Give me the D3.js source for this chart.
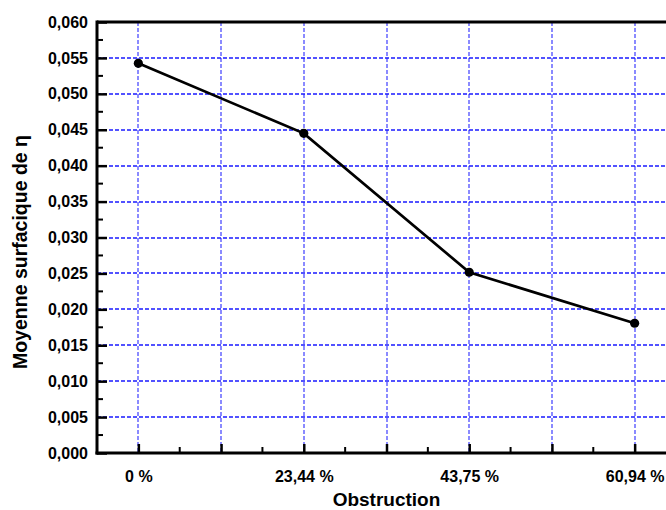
<!DOCTYPE html>
<html><head><meta charset="utf-8">
<script src="https://cdn.jsdelivr.net/npm/d3@7"></script>
<style>body{margin:0;background:#fff}svg{display:block}text{font-family:"Liberation Sans",Arial,sans-serif;font-weight:bold;fill:#000}</style>
</head><body>
<script>
const categories = ["0 %", "23,44 %", "43,75 %", "60,94 %"];
const positions = [1, 2, 3, 4];
const values = [0.05425, 0.0445, 0.02516, 0.01806];
const yTicks = [0, 0.005, 0.01, 0.015, 0.02, 0.025, 0.03, 0.035, 0.04, 0.045, 0.05, 0.055, 0.06];
const xMajor = [1, 1.5, 2, 2.5, 3, 3.5, 4];
const xMinor = [1.25, 1.75, 2.25, 2.75, 3.25, 3.75];
const yMinor = d3.range(0.0025, 0.06, 0.005);
const xTitle = "Obstruction";
const yTitle = "Moyenne surfacique de η";

const W = 666, H = 510;
const m = {l: 97, t: 22, r: 676, b: 453};
const svg = d3.select("body").append("svg").attr("width", W).attr("height", H);
const x = d3.scaleLinear().domain([0.75, 4.25]).range([m.l, m.r]);
const y = d3.scaleLinear().domain([0, 0.06]).range([m.b, m.t]);

// grid
svg.append("g").selectAll("line").data(xMajor).join("line")
  .attr("x1", d => x(d)).attr("x2", d => x(d)).attr("y1", m.t).attr("y2", m.b)
  .attr("stroke", "#8a8aff").attr("stroke-width", 2).attr("stroke-dasharray", "4,2")
  .attr("shape-rendering", "crispEdges");
svg.append("g").selectAll("line").data(yTicks.filter(v => v > 0 && v < 0.06)).join("line")
  .attr("x1", m.l).attr("x2", m.r).attr("y1", d => Math.round(y(d))).attr("y2", d => Math.round(y(d)))
  .attr("stroke", "#1a1aff").attr("stroke-width", 1.6).attr("stroke-dasharray", "4,2");

// axes
const fmt = d => d3.format(".3f")(d).replace(".", ",");
const yAxis = svg.append("g").attr("transform", `translate(${m.l},0)`)
  .call(d3.axisLeft(y).tickValues(yTicks).tickSize(-10).tickPadding(20).tickFormat(fmt));
yAxis.select(".domain").remove();
yAxis.selectAll(".tick line").attr("stroke-width", 2.5);
yAxis.selectAll(".tick text").style("font-size", "16px").attr("x", -9);
svg.append("g").selectAll("line").data(yMinor).join("line")
  .attr("x1", m.l).attr("x2", m.l + 6).attr("y1", d => y(d)).attr("y2", d => y(d))
  .attr("stroke", "#000").attr("stroke-width", 2);

const labelMap = new Map(positions.map((p, i) => [p, categories[i]]));
const xAxis = svg.append("g").attr("transform", `translate(0,${m.b})`)
  .call(d3.axisBottom(x).tickValues(xMajor).tickSize(-9).tickPadding(18).tickFormat(d => labelMap.get(d) || ""));
xAxis.select(".domain").remove();
xAxis.selectAll(".tick line").attr("stroke-width", 2.5);
xAxis.selectAll(".tick text").style("font-size", "16px");
svg.append("g").selectAll("line").data(xMinor).join("line")
  .attr("x1", d => x(d)).attr("x2", d => x(d)).attr("y1", m.b).attr("y2", m.b - 6)
  .attr("stroke", "#000").attr("stroke-width", 2);

// frame lines
svg.append("line").attr("x1", m.l).attr("x2", m.r).attr("y1", m.t).attr("y2", m.t).attr("stroke", "#000").attr("stroke-width", 3);
svg.append("line").attr("x1", m.l - 1.5).attr("x2", m.r).attr("y1", m.b).attr("y2", m.b).attr("stroke", "#000").attr("stroke-width", 3);
svg.append("line").attr("x1", m.l).attr("x2", m.l).attr("y1", m.t - 1.5).attr("y2", m.b + 1.5).attr("stroke", "#000").attr("stroke-width", 3);

// data line
const line = d3.line().x((d, i) => x(positions[i])).y(d => y(d));
svg.append("path").datum(values).attr("d", line).attr("fill", "none").attr("stroke", "#000").attr("stroke-width", 2.7);
svg.append("g").selectAll("circle").data(values).join("circle")
  .attr("cx", (d, i) => x(positions[i])).attr("cy", d => y(d)).attr("r", 4.6).attr("fill", "#000");

// titles
svg.append("text").attr("x", (m.l + m.r) / 2).attr("y", 506).attr("text-anchor", "middle")
  .style("font-size", "19px").text(xTitle);
svg.append("text").attr("transform", "translate(27,252) rotate(-90)").attr("text-anchor", "middle")
  .style("font-size", "19.5px").text(yTitle);
</script>
</body></html>
